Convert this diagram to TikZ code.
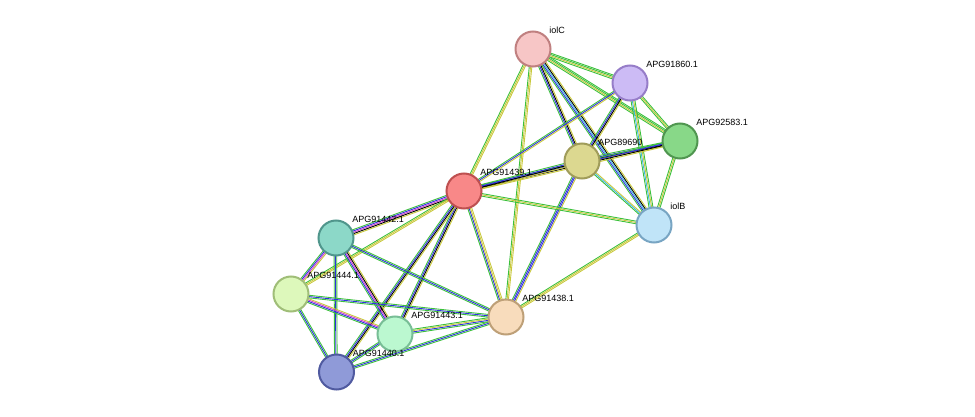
\documentclass[tikz,border=0pt]{standalone}
\usepackage{fontspec}
\setmainfont{Liberation Sans}
\usetikzlibrary{calc,backgrounds}
\definecolor{eGreen}{HTML}{3CC03C}
\definecolor{eYellow}{HTML}{C8C83C}
\definecolor{eBlue}{HTML}{3030E0}
\definecolor{eCyan}{HTML}{40B8E0}
\definecolor{eMag}{HTML}{D040D0}
\newcommand\edge[3]{%
  \foreach \c [count=\i] in {#3} {
    \pgfmathsetmacro\off{(\i-2.5)*1.3}
    \draw[\c, line width=0.9pt] ($(#1.center)!\off pt!90:(#2.center)$) -- ($(#2.center)!\off pt!-90:(#1.center)$);
  }}
\begin{document}
\begin{tikzpicture}[x=1pt,y=-1pt]
	\tikzset{prot/.style={draw,circle,line width=2pt,minimum size=35pt,inner sep=0pt,
			label={[anchor=south west,inner sep=0pt,font=\fontsize{9}{11}\selectfont,shift={(3,-2)}]45:#1}}}
	\useasboundingbox (0,0) rectangle (975,417);
	\node[prot=iolC, fill={rgb,255:red,247;green,198;blue,198}, draw={rgb,255:red,192;green,128;blue,128}] (iolC) at (533,49) {};
	\node[prot=APG91860.1, fill={rgb,255:red,204;green,187;blue,245}, draw={rgb,255:red,150;green,125;blue,200}] (p91860) at (630,83) {};
	\node[prot=APG89690, fill={rgb,255:red,220;green,216;blue,144}, draw={rgb,255:red,160;green,156;blue,90}] (p89690) at (582,161) {};
	\node[prot=APG92583.1, fill={rgb,255:red,136;green,216;blue,136}, draw={rgb,255:red,80;green,150;blue,80}] (p92583) at (680,141) {};
	\node[prot=APG91439.1, fill={rgb,255:red,248;green,136;blue,136}, draw={rgb,255:red,190;green,80;blue,80}] (p91439) at (464,191) {};
	\node[prot=iolB, fill={rgb,255:red,192;green,228;blue,248}, draw={rgb,255:red,120;green,165;blue,195}] (iolB) at (654,225) {};
	\node[prot=APG91442.1, fill={rgb,255:red,140;green,216;blue,200}, draw={rgb,255:red,80;green,150;blue,140}] (p91442) at (336,238) {};
	\node[prot=APG91444.1, fill={rgb,255:red,221;green,248;blue,187}, draw={rgb,255:red,160;green,190;blue,120}] (p91444) at (291,294) {};
	\node[prot=APG91443.1, fill={rgb,255:red,187;green,248;blue,208}, draw={rgb,255:red,120;green,190;blue,150}] (p91443) at (395,334) {};
	\node[prot=APG91438.1, fill={rgb,255:red,248;green,220;blue,188}, draw={rgb,255:red,190;green,160;blue,120}] (p91438) at (506,317) {};
	\node[prot=APG91440.1, fill={rgb,255:red,143;green,154;blue,216}, draw={rgb,255:red,80;green,90;blue,160}] (p91440) at (336.5,372) {};
	\begin{pgfonlayer}{background}
		% upper cluster
		\edge{iolC}{p91860}{eGreen,eYellow,eGreen,eGreen}
		\edge{iolC}{p92583}{eGreen,eYellow,eGreen,eGreen}
		\edge{iolC}{p89690}{eGreen,eBlue,black,eYellow}
		\edge{iolC}{iolB}{eGreen,eBlue,eCyan,black,eYellow}
		\edge{iolC}{p91439}{eGreen,eYellow,eYellow}
		\edge{iolC}{p91438}{eGreen,eYellow,eYellow}
		\edge{p91860}{p92583}{eGreen,eYellow,eGreen}
		\edge{p91860}{p89690}{eGreen,eBlue,black,eYellow}
		\edge{p91860}{iolB}{eGreen,eCyan,eYellow,eGreen}
		\edge{p91860}{p91439}{eGreen,eBlue,eYellow}
		\edge{p92583}{p89690}{eGreen,eBlue,black,eYellow}
		\edge{p92583}{iolB}{eGreen,eYellow,eGreen}
		\edge{p92583}{p91439}{eGreen,eBlue,black,eYellow}
		\edge{p89690}{iolB}{eGreen,eCyan,eYellow}
		\edge{p89690}{p91439}{eGreen,eBlue,black,eYellow}
		\edge{p89690}{p91438}{eGreen,eBlue,eBlue,eYellow}
		\edge{p91439}{iolB}{eGreen,eYellow,eGreen}
		\edge{p91439}{p91438}{eGreen,eBlue,eYellow,eYellow}
		\edge{iolB}{p91438}{eGreen,eYellow,eYellow}
		% lower cluster
		\edge{p91439}{p91442}{eGreen,eBlue,eMag,black,eYellow}
		\edge{p91439}{p91444}{eGreen,eYellow,eYellow}
		\edge{p91439}{p91443}{eGreen,eBlue,black,eYellow}
		\edge{p91439}{p91440}{eGreen,eBlue,black,eYellow}
		\edge{p91442}{p91444}{eGreen,eBlue,eMag,eYellow}
		\edge{p91442}{p91443}{eGreen,eBlue,eMag,black,eYellow}
		\edge{p91442}{p91440}{eGreen,eBlue,eGreen}
		\edge{p91442}{p91438}{eGreen,eBlue,eGreen}
		\edge{p91444}{p91443}{eGreen,eBlue,eMag,eYellow}
		\edge{p91444}{p91440}{eGreen,eBlue,eGreen}
		\edge{p91444}{p91438}{eGreen,eBlue,eGreen}
		\edge{p91443}{p91440}{eGreen,eBlue,eGreen}
		\edge{p91443}{p91438}{eGreen,eBlue,eYellow,eGreen}
		\edge{p91440}{p91438}{eGreen,eBlue,eGreen}
	\end{pgfonlayer}
\end{tikzpicture}
\end{document}
